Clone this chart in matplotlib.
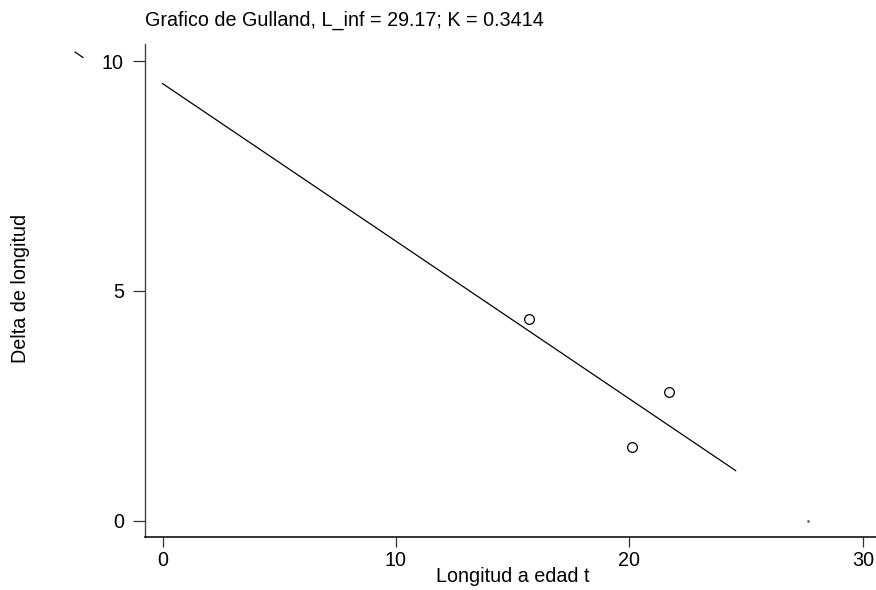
import numpy as np
import matplotlib
matplotlib.use("Agg")
import matplotlib.pyplot as plt
from matplotlib.lines import Line2D

plt.rcParams['font.family'] = ['Liberation Sans', 'DejaVu Sans']

# longitud a edad t vs incremento de longitud
longitud = [15.7, 20.1, 21.7]
delta = [4.38, 1.60, 2.81]

# recta de Gulland ajustada
intercepto = 9.51
pendiente = -0.343
recta_x = [0.0, 24.55]
L_cero = 27.66  # corte con delta = 0

titulo = "Grafico de Gulland, L_inf = 29.17; K = 0.3414"
xticks = [0, 10, 20, 30]
yticks = [0, 5, 10]

fs = 14.2

fig = plt.figure(figsize=(8.76, 5.90), dpi=100)
ax = fig.add_axes([145 / 876, 1 - 536.7 / 590, 1 - 145 / 876, (536.7 - 44) / 590])

ax.plot(longitud, delta, 'o', mfc='none', mec='black', ms=7, mew=0.9)
rx = np.array(recta_x)
ax.plot(rx, intercepto + pendiente * rx, color='black', lw=0.9)
ax.plot([L_cero], [0], marker='s', ms=0.8, color='#555555', ls='none')

ax.set_xlim(-0.75, 30.56)
ax.set_ylim(-0.348, 10.37)
ax.set_xticks(xticks)
ax.set_yticks(yticks)
ax.tick_params(axis='y', length=8.3, width=0.9, pad=7, labelsize=fs, color='#333333')
ax.tick_params(axis='x', length=7.3, width=0.9, pad=3.0, labelsize=fs, color='#333333')
for s in ['top', 'right']:
    ax.spines[s].set_visible(False)
ax.spines['left'].set_color('#444444')
ax.spines['bottom'].set_color('black')
ax.spines['left'].set_linewidth(1.0)
ax.spines['bottom'].set_linewidth(1.1)

fig.text(21 / 876, 1 - 288 / 590, "Delta de longitud", rotation=90,
         ha='center', va='center', fontsize=fs)
fig.text(513 / 876, 1 - 577 / 590, "Longitud a edad t",
         ha='center', va='center', fontsize=fs)
fig.text(145 / 876, 1 - 20 / 590, titulo, ha='left', va='center', fontsize=fs)

# trazo suelto junto al eje y
fig.add_artist(Line2D([75 / 876, 83 / 876], [1 - 52 / 590, 1 - 57.5 / 590],
                      color='black', lw=0.9))

fig.savefig("out.png", dpi=100)
